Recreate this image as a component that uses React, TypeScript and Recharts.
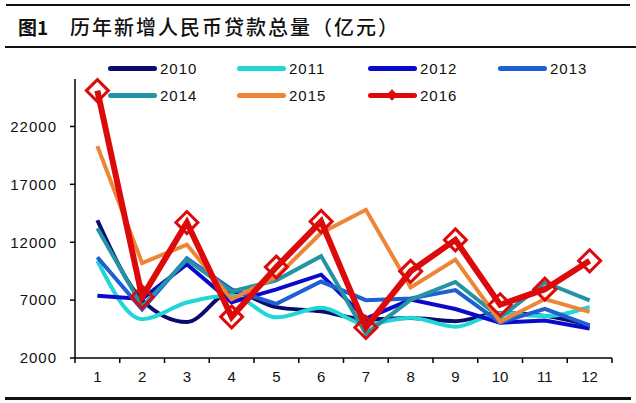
import React from "react";
import { LineChart, Line, XAxis, YAxis } from "recharts";

// monthly new RMB loans, 100m yuan
const months = [1, 2, 3, 4, 5, 6, 7, 8, 9, 10, 11, 12];
const s2010 = [13900, 7000, 5107, 7740, 6394, 6034, 5328, 5452, 5185, 5877, 5640, 4807];
const s2011 = [10400, 5356, 6794, 7396, 5516, 6339, 4922, 5485, 4700, 5868, 5622, 6405];
const s2012 = [7381, 7107, 10100, 6818, 7932, 9198, 5401, 7039, 6232, 5053, 5229, 4543];
const s2013 = [10700, 6200, 10600, 7929, 6674, 8605, 6999, 7135, 7872, 5054, 6246, 4825];
const s2014 = [13200, 6445, 10500, 7747, 8708, 10800, 4100, 7025, 8572, 5483, 8527, 6973];
const s2015 = [20300, 10200, 11800, 7079, 9008, 12800, 14800, 8096, 10500, 5136, 7089, 5978];
const s2016 = [25100, 7266, 13700, 5556, 9855, 13800, 4636, 9487, 12200, 6600, 7946, 10400];

const yTicks = [2000, 7000, 12000, 17000, 22000];
const xTicks = [0.5, 1, 1.5, 2, 2.5, 3, 3.5, 4, 4.5, 5, 5.5, 6, 6.5, 7, 7.5, 8, 8.5, 9, 9.5, 10, 10.5, 11, 11.5, 12, 12.5];

const data = months.map((m, i) => ({
  m,
  y2010: s2010[i],
  y2011: s2011[i],
  y2012: s2012[i],
  y2013: s2013[i],
  y2014: s2014[i],
  y2015: s2015[i],
  y2016: s2016[i],
}));

const series = [
  { key: "y2010", name: "2010", color: "#0b0b6e", curve: "monotone" },
  { key: "y2011", name: "2011", color: "#20d6d6", curve: "monotone" },
  { key: "y2012", name: "2012", color: "#0a0acb", curve: "linear" },
  { key: "y2013", name: "2013", color: "#1f5fd4", curve: "linear" },
  { key: "y2014", name: "2014", color: "#2294a3", curve: "linear" },
  { key: "y2015", name: "2015", color: "#ee8436", curve: "linear" },
];

const RED = "#dc0a0a";
const FONT = "'Liberation Sans', Arial, sans-serif";

function XTick(props: any) {
  const { x, y, payload } = props;
  const v = payload.value;
  if (Number.isInteger(v)) {
    return (
      <text x={x} y={y + 24} textAnchor="middle" fontSize={15} fill="#111" fontFamily={FONT}>
        {v}
      </text>
    );
  }
  return <line x1={x} x2={x} y1={y} y2={y + 5} stroke="#000" strokeWidth={1.5} />;
}

function Diamond(props: any) {
  const { cx, cy, index } = props;
  if (cx == null || cy == null) return null;
  const r = 11;
  return (
    <path
      key={"d" + index}
      d={`M${cx},${cy - r}L${cx + r},${cy}L${cx},${cy + r}L${cx - r},${cy}Z`}
      fill="none"
      stroke={RED}
      strokeWidth={3}
    />
  );
}

const legendRows = [
  [
    { name: "2010", color: "#0b0b6e", x: 108 },
    { name: "2011", color: "#20d6d6", x: 237 },
    { name: "2012", color: "#0a0acb", x: 368 },
    { name: "2013", color: "#1f5fd4", x: 498 },
  ],
  [
    { name: "2014", color: "#2294a3", x: 108 },
    { name: "2015", color: "#ee8436", x: 237 },
    { name: "2016", color: RED, x: 368, marker: true },
  ],
];

function LegendBox() {
  return (
    <>
      {legendRows.map((row, ri) =>
        row.map((it) => (
          <div
            key={it.name}
            style={{ position: "absolute", left: it.x, top: ri === 0 ? 58 : 85, height: 20, display: "flex", alignItems: "center" }}
          >
            <div style={{ position: "relative", width: 49, height: 5, borderRadius: 3, background: it.color }}>
              {it.marker && (
                <div
                  style={{
                    position: "absolute",
                    left: 20,
                    top: -2,
                    width: 8,
                    height: 8,
                    background: RED,
                    transform: "rotate(45deg)",
                  }}
                />
              )}
            </div>
            <span style={{ marginLeft: 3, fontSize: 15, letterSpacing: 1, fontFamily: FONT, color: "#111" }}>{it.name}</span>
          </div>
        ))
      )}
    </>
  );
}

export default function App() {
  return (
    <div style={{ position: "absolute", left: 0, top: 0, width: 636, height: 403, background: "#fff", overflow: "hidden" }}>
      <div style={{ position: "absolute", left: 6, top: 4, width: 624, height: 0, borderTop: "2px solid #111" }} />
      <div
        style={{
          position: "absolute",
          left: 18,
          top: 13,
          fontFamily: "'Noto Sans CJK SC', sans-serif",
          color: "#111",
          whiteSpace: "nowrap",
          lineHeight: "28px",
        }}
      >
        <span style={{ fontWeight: 700, fontSize: 19 }}>图1</span>
        <span style={{ position: "absolute", left: 52, fontSize: 20, letterSpacing: 2, fontWeight: 500 }}>
          历年新增人民币贷款总量（亿元）
        </span>
      </div>
      <div style={{ position: "absolute", left: 5, top: 46, width: 631, height: 0, borderTop: "2px solid #111" }} />

      <LineChart width={636} height={403} data={data} margin={{ top: 79, right: 24, bottom: 15, left: 0 }}>
        <XAxis
          dataKey="m"
          type="number"
          domain={[0.5, 12.5]}
          ticks={xTicks}
          interval={0}
          tickLine={false}
          tickSize={0}
          tickMargin={0}
          tick={<XTick />}
          height={30}
          axisLine={{ stroke: "#000", strokeWidth: 1.5 }}
        />
        <YAxis
          domain={[2000, 26100]}
          ticks={yTicks}
          interval={0}
          width={75}
          tickSize={5}
          tickMargin={13}
          tick={{ fontSize: 15, fill: "#111", fontFamily: FONT, letterSpacing: 1 }}
          tickLine={{ stroke: "#000", strokeWidth: 1.5 }}
          axisLine={{ stroke: "#000", strokeWidth: 1.5 }}
        />
        {series.map((s) => (
          <Line
            key={s.key}
            type={s.curve as any}
            dataKey={s.key}
            name={s.name}
            stroke={s.color}
            strokeWidth={4}
            dot={false}
            isAnimationActive={false}
          />
        ))}
        <Line
          type="linear"
          dataKey="y2016"
          name="2016"
          stroke={RED}
          strokeWidth={6}
          dot={<Diamond />}
          activeDot={false}
          isAnimationActive={false}
        />
      </LineChart>

      <LegendBox />
      <div style={{ position: "absolute", left: 5, top: 397, width: 626, height: 0, borderTop: "3px solid #111" }} />
    </div>
  );
}
